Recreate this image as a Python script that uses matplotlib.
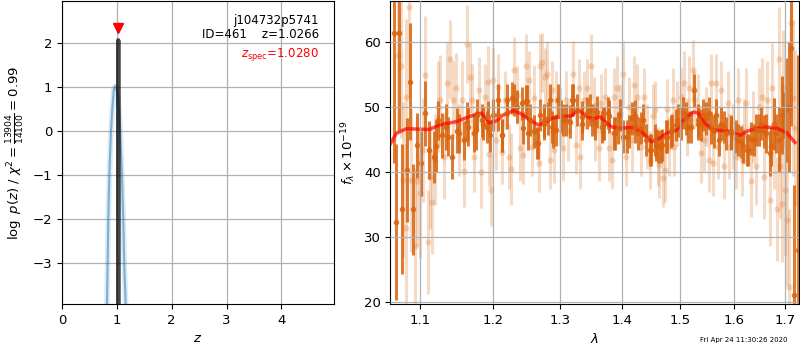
import matplotlib
matplotlib.use("Agg")
import matplotlib.pyplot as plt
from matplotlib.ticker import FixedLocator, FixedFormatter, NullLocator

# ---------------- left panel data ----------------
z_pz = [0.810, 0.820, 0.832, 0.844, 0.862, 0.893, 0.917, 0.945, 0.970, 0.990,
        1.015, 1.040, 1.062, 1.093, 1.117, 1.135, 1.160, 1.175]
logp_pz = [-5.5, -3.92, -3.0, -2.0, -1.0, 0.0, 0.5, 0.95, 1.03, 0.98,
           0.8, 0.5, 0.0, -1.0, -2.0, -3.0, -3.92, -5.0]
z_fit = [1.0215, 1.0266, 1.0315]
logp_fit = [-6.0, 2.07, -6.0]
z_spec = 1.0280
z_spec_marker_y = 2.35
obj_name = "j104732p5741"
obj_id = 461
z_best = 1.0266
chi2_num, chi2_den, chi2_red = 13904, 14100, 0.99

# ---------------- right panel data ----------------
lam_lo = [1.0710, 1.0753, 1.0818, 1.0853, 1.0809, 1.0775, 1.0883, 1.0926, 1.0957, 1.0991,
          1.1037, 1.1060, 1.1106, 1.1129, 1.1151, 1.1188, 1.1230, 1.1266, 1.1312, 1.1358,
          1.1395, 1.1441, 1.1473, 1.1519, 1.1565, 1.1588, 1.1633, 1.1670, 1.1702, 1.1734,
          1.1794, 1.1826, 1.1886, 1.1918, 1.1946, 1.1964, 1.2000, 1.2040, 1.2074, 1.2124,
          1.2173, 1.2223, 1.2257, 1.2297, 1.2347, 1.2396, 1.2436, 1.2485, 1.2520, 1.2569,
          1.2604, 1.2668, 1.2683, 1.2718, 1.2767, 1.2792, 1.2842, 1.2866, 1.2901, 1.2941,
          1.2990, 1.3043, 1.3087, 1.3124, 1.3195, 1.3249, 1.3287, 1.3314, 1.3368, 1.3422,
          1.3487, 1.3530, 1.3557, 1.3611, 1.3649, 1.3720, 1.3774, 1.3828, 1.3855, 1.3909,
          1.3953, 1.4018, 1.4064, 1.4105, 1.4164, 1.4193, 1.4252, 1.4310, 1.4369, 1.4427,
          1.4474, 1.4515, 1.4556, 1.4603, 1.4632, 1.4690, 1.4737, 1.4766, 1.4807, 1.4865,
          1.4895, 1.4953, 1.5012, 1.5074, 1.5123, 1.5167, 1.5228, 1.5259, 1.5321, 1.5383,
          1.5432, 1.5475, 1.5518, 1.5568, 1.5598, 1.5660, 1.5703, 1.5753, 1.5814, 1.5876,
          1.5907, 1.5969, 1.6032, 1.6077, 1.6142, 1.6194, 1.6226, 1.6323, 1.6355, 1.6419,
          1.6484, 1.6548, 1.6581, 1.6645, 1.6697, 1.6742, 1.6774, 1.6839, 1.6871, 1.6903,
          1.6935, 1.6968, 1.7000, 1.7047, 1.7087, 1.7134, 1.7168, 1.7201]
flux_lo = [58.1, 56.3, 51.6, 65.5, 31.4, 38.8, 38.8, 28.6, 38.6, 36.8,
           43.4, 55.0, 29.3, 39.3, 35.5, 41.9, 50.1, 51.1, 42.4, 53.7,
           57.4, 51.1, 52.9, 45.0, 51.1, 40.2, 59.8, 54.6, 51.1, 42.4,
           52.7, 40.0, 51.6, 53.9, 42.8, 37.3, 54.2, 44.9, 53.2, 43.2,
           51.1, 42.4, 40.5, 55.8, 51.9, 43.7, 42.7, 56.3, 54.2, 43.9,
           51.5, 41.4, 56.3, 56.9, 54.6, 55.2, 41.9, 52.7, 43.4, 51.1,
           48.6, 43.7, 51.1, 46.3, 55.2, 44.2, 52.9, 42.4, 51.1, 52.9,
           56.3, 50.1, 46.3, 43.7, 50.6, 51.6, 43.7, 41.9, 51.6, 52.9,
           49.1, 55.2, 42.4, 50.1, 45.0, 53.4, 51.6, 43.9, 51.6, 45.5,
           41.9, 48.6, 49.6, 42.4, 41.1, 39.1, 40.4, 49.8, 43.9, 51.1,
           43.9, 49.1, 51.6, 53.7, 47.0, 52.9, 55.8, 51.1, 50.1, 42.9,
           45.0, 48.6, 41.9, 53.7, 41.4, 53.7, 43.9, 52.7, 40.9, 50.6,
           43.9, 45.5, 42.4, 51.1, 41.9, 46.3, 50.6, 38.6, 47.0, 40.9,
           50.1, 51.6, 39.3, 51.1, 35.7, 52.9, 44.5, 34.3, 57.5, 40.9,
           35.2, 52.9, 37.3, 32.7, 22.4, 62.9, 51.4, 46.8]
err_lo = [12, 11, 12, 14, 13, 12, 11, 12, 10, 10,
          8, 9, 8, 8, 8, 7, 7, 7, 6.5, 6.5,
          6, 6, 5.5, 5.5, 6, 5.5, 6, 5.5, 5.5, 5.5,
          5, 5.5, 5, 5.5, 5, 5.5, 5, 4.5, 5, 5,
          4.5, 5, 5.5, 5, 4.5, 5, 4.5, 5, 4.5, 4.5,
          5, 4.5, 5, 4.5, 4.5, 5, 4.5, 4.5, 5, 4.5,
          4.5, 5, 4.5, 4.5, 5, 4.5, 4.5, 5, 4.5, 4.5,
          5, 4.5, 4.5, 5, 4.5, 4.5, 5, 4.5, 4.5, 5,
          4.5, 5, 4.5, 4.5, 5, 4.5, 5, 4.5, 4.5, 5,
          4.5, 5, 4.5, 4.5, 5, 4.5, 5, 4.5, 4.5, 5,
          4.5, 5, 4.5, 5, 4.5, 5, 4.5, 4.5, 5, 4.5,
          5, 4.5, 5, 4.5, 5, 4.5, 5, 4.5, 5, 5,
          5, 5, 5, 5, 5.5, 5, 5.5, 5.5, 5.5, 6,
          6, 6, 6.5, 6, 7, 7, 7, 8, 8, 8,
          9, 9, 10, 10, 12, 14, 12, 12]

lam_hi = [1.0653, 1.0680, 1.0723, 1.0762, 1.0827, 1.0861, 1.0905, 1.0957, 1.1014, 1.1060,
          1.1119, 1.1174, 1.1211, 1.1289, 1.1335, 1.1427, 1.1496, 1.1588, 1.1634, 1.1725,
          1.1771, 1.1840, 1.1909, 1.1955, 1.2000, 1.2074, 1.2124, 1.2198, 1.2272, 1.2347,
          1.2421, 1.2495, 1.2545, 1.2594, 1.2653, 1.2743, 1.2817, 1.2866, 1.2941, 1.3016,
          1.3097, 1.3178, 1.3260, 1.3341, 1.3422, 1.3503, 1.3584, 1.3692, 1.3773, 1.3854,
          1.3935, 1.4018, 1.4105, 1.4222, 1.4310, 1.4398, 1.4485, 1.4573, 1.4661, 1.4749,
          1.4836, 1.4924, 1.5012, 1.5105, 1.5197, 1.5259, 1.5321, 1.5383, 1.5475, 1.5568,
          1.5660, 1.5753, 1.5846, 1.5938, 1.6032, 1.6129, 1.6245, 1.6335, 1.6419, 1.6516,
          1.6613, 1.6697, 1.6774, 1.6871, 1.6935, 1.7019, 1.7084, 1.7129, 1.7193, 1.7258]
flux_hi = [61.4, 32.4, 61.5, 34.3, 40.3, 53.9, 34.3, 44.2, 41.4, 49.1,
           43.4, 42.3, 44.1, 45.7, 47.0, 42.4, 46.4, 44.9, 47.8, 46.1,
           48.8, 48.0, 47.0, 45.7, 48.8, 51.1, 45.7, 49.1, 51.4, 50.1,
           50.6, 51.0, 48.05, 46.3, 44.5, 47.5, 48.3, 47.0, 46.5, 48.6,
           48.05, 51.1, 49.6, 47.5, 49.1, 48.05, 49.3, 47.5, 48.6, 46.0,
           46.8, 45.5, 46.3, 48.6, 46.8, 45.0, 43.4, 44.2, 44.0, 45.5,
           46.3, 47.3, 47.5, 48.3, 47.0, 52.6, 48.05, 47.3, 48.3, 46.8,
           48.8, 47.5, 46.0, 46.3, 45.5, 44.7, 43.4, 45.2, 46.5, 47.5,
           46.0, 42.9, 47.5, 45.0, 48.8, 49.6, 50.1, 59.2, 21.1, 28.0]
err_hi = [20, 12, 15, 10, 8, 9, 7, 5, 5, 5,
          4.5, 4, 4, 3.5, 3.5, 3.5, 3.5, 3, 3, 3,
          2.5, 2.5, 2.5, 2.5, 2.5, 2.5, 2.5, 2.5, 2.5, 2.5,
          2.5, 2.5, 2.5, 2.5, 2.5, 2.5, 2.5, 2.5, 2.5, 2.5,
          2.5, 2.5, 2.5, 2.5, 2.5, 2.5, 2.5, 2.5, 2.5, 2.5,
          2.5, 2.5, 2.5, 2.5, 2.5, 2.5, 2.5, 2.5, 2.5, 2.5,
          2.5, 2.5, 2.5, 2.5, 2.5, 2.5, 2.5, 2.5, 2.5, 2.5,
          2.5, 2.5, 2.5, 2.5, 2.5, 2.5, 2.5, 2.5, 2.5, 2.5,
          3, 3.5, 4, 5, 6, 8, 10, 12, 17, 30]

# additional binned points read between the ones above
lam_hi_b = [1.1230, 1.1365, 1.1525, 1.1640, 1.1756, 1.1850, 1.1921,
            1.2072, 1.2121, 1.2193, 1.2305, 1.2438, 1.2478, 1.2512, 1.2638, 1.2689, 1.2754,
            1.2841, 1.2892, 1.2970, 1.3046, 1.3152, 1.3205, 1.3338, 1.3471, 1.3552, 1.3661,
            1.3686, 1.3768, 1.3878, 1.3962, 1.4074, 1.4158, 1.4214, 1.4270, 1.4356, 1.4472,
            1.4559, 1.4616, 1.4675, 1.4763, 1.4851, 1.4969, 1.5058, 1.5149, 1.5330, 1.5422,
            1.5530, 1.5622, 1.5715, 1.5810, 1.5938, 1.6065, 1.6162, 1.6258, 1.6387, 1.6485,
            1.6584, 1.6717, 1.6818, 1.6954]
flux_hi_b = [48.0, 45.5, 46.0, 47.0, 46.5, 47.5, 48.5,
             48.8, 45.7, 51.1, 51.1, 46.8, 51.0, 46.0, 44.5, 48.8, 48.0,
             51.1, 46.3, 51.1, 48.05, 47.8, 51.1, 48.5, 49.6, 47.5, 47.0,
             47.5, 49.1, 46.0, 48.8, 45.5, 48.3, 47.0, 46.0, 48.0, 43.4,
             45.0, 44.0, 44.2, 45.5, 46.5, 48.0, 49.1, 47.0, 47.5, 48.8,
             49.1, 46.3, 45.0, 47.0, 46.0, 45.0, 44.0, 43.4, 45.0, 46.5,
             46.3, 44.0, 46.0, 48.8]
err_hi_b = [3, 3, 3, 3, 3, 2.5, 2.5,
            2.5, 2.5, 2.5, 2.5, 2.5, 2.5, 2.5, 2.5, 2.5, 2.5,
            2.5, 2.5, 2.5, 2.5, 2.5, 2.5, 2.5, 2.5, 2.5, 2.5,
            2.5, 2.5, 2.5, 2.5, 2.5, 2.5, 2.5, 2.5, 2.5, 2.5,
            2.5, 2.5, 2.5, 2.5, 2.5, 2.5, 2.5, 2.5, 2.5, 2.5,
            2.5, 2.5, 2.5, 2.5, 2.5, 2.5, 2.5, 2.5, 2.5, 2.5,
            2.5, 3, 3, 3.5]

lam_model = [1.0613, 1.0689, 1.0817, 1.1123, 1.1257, 1.1483, 1.1667, 1.1831, 1.1950, 1.2043,
             1.2141, 1.2287, 1.2386, 1.2534, 1.2660, 1.2762, 1.2864, 1.3045, 1.3176, 1.3281,
             1.3387, 1.3521, 1.3628, 1.3683, 1.3820, 1.3958, 1.4182, 1.4324, 1.4497, 1.4613,
             1.4759, 1.4940, 1.5060, 1.5242, 1.5333, 1.5456, 1.5610, 1.5856, 1.6112, 1.6273,
             1.6567, 1.6833, 1.7035, 1.7205]
flux_model = [44.4, 46.0, 46.7, 46.6, 47.3, 47.8, 48.6, 49.1, 47.6, 47.9,
              48.8, 49.5, 49.1, 48.05, 47.3, 47.6, 48.3, 48.6, 48.7, 49.6,
              48.8, 48.15, 48.6, 48.05, 47.0, 46.8, 46.9, 46.3, 44.7, 45.1,
              46.0, 46.5, 48.05, 49.3, 49.1, 47.5, 46.5, 46.4, 45.7, 46.4,
              47.0, 46.8, 46.1, 44.6]

lam_ticks = [1.1, 1.2, 1.3, 1.4, 1.5, 1.6, 1.7]
lam_ticklabels = ["1.1", "1.2", "1.3", "1.4", "1.5", "1.6", "1.7"]
timestamp = "Fri Apr 24 11:30:26 2020"

# ---------------- figure ----------------
plt.rcParams['font.size'] = 9.5
fig = plt.figure(figsize=(8, 3.5), dpi=100)

ax1 = fig.add_axes([0.0775, 0.1314, 0.34, 0.8656])
ax1.plot(z_pz, logp_pz, color='tab:blue', lw=4, alpha=0.15)
ax1.plot(z_pz, logp_pz, color='tab:blue', lw=1.5, alpha=0.5)
ax1.plot(z_fit, logp_fit, color='black', lw=3, alpha=0.72)
ax1.plot([z_spec], [z_spec_marker_y], marker='v', color='red', ms=7, ls='none')
ax1.set_xlim(0, 4.96)
ax1.set_ylim(-3.92, 2.96)
ax1.set_xticks([0, 1, 2, 3, 4])
ax1.set_yticks([-3, -2, -1, 0, 1, 2])
ax1.grid(True, color='#b0b0b0', lw=0.9)
ax1.set_xlabel(r'$z$')
ax1.set_ylabel(r'$\log\ p(z)$ / $\chi^2=\frac{%d}{%d}=%.2f$' % (chi2_num, chi2_den, chi2_red))
ax1.text(0.945, 0.958, '%s\nID=%d    z=%.4f' % (obj_name, obj_id, z_best),
         transform=ax1.transAxes, ha='right', va='top', fontsize=8.5, linespacing=1.1)
ax1.text(0.945, 0.852, r'$z_\mathrm{spec}$=%.4f' % z_spec, color='red',
         transform=ax1.transAxes, ha='right', va='top', fontsize=8.5)

ax2 = fig.add_axes([0.488, 0.1314, 0.511, 0.8656])
c_dark = '#d9650f'
ax2.errorbar(lam_lo, flux_lo, yerr=err_lo, fmt='o', color=c_dark, alpha=0.24,
             ms=4.5, elinewidth=2.2, capsize=0, mew=0)
ax2.errorbar(lam_hi, flux_hi, yerr=err_hi, fmt='o', color=c_dark, alpha=0.85,
             ms=4, elinewidth=2.2, capsize=0, mew=0)
ax2.errorbar(lam_hi_b, flux_hi_b, yerr=err_hi_b, fmt='o', color=c_dark, alpha=0.85,
             ms=4, elinewidth=2.2, capsize=0, mew=0)
ax2.plot(lam_model, flux_model, color='red', lw=2.5, alpha=0.7)
ax2.set_xscale('log')
ax2.xaxis.set_major_locator(FixedLocator(lam_ticks))
ax2.xaxis.set_major_formatter(FixedFormatter(lam_ticklabels))
ax2.xaxis.set_minor_locator(NullLocator())
ax2.set_xlim(1.0613, 1.7293)
ax2.set_ylim(19.74, 66.35)
ax2.set_yticks([20, 30, 40, 50, 60])
ax2.set_axisbelow(False)
ax2.grid(True, color='#b0b0b0', lw=0.9)
ax2.set_xlabel(r'$\lambda$')
ax2.set_ylabel(r'$f_\lambda\times10^{-19}$')

fig.text(0.93, 0.029, timestamp, fontsize=5, ha='center', va='center')

fig.savefig('out.png', dpi=100)
